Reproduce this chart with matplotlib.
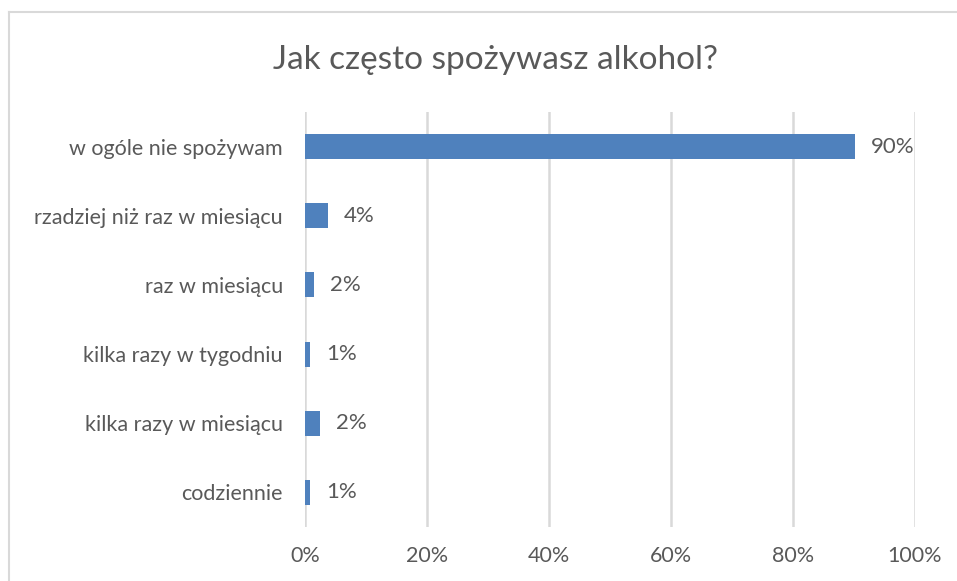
import matplotlib.pyplot as plt
from matplotlib.lines import Line2D

# Odpowiedzi i udziały w procentach
categories = ["w ogóle nie spożywam", "rzadziej niż raz w miesiącu", "raz w miesiącu",
              "kilka razy w tygodniu", "kilka razy w miesiącu", "codziennie"]
shares = [90.2, 3.8, 1.5, 0.8, 2.4, 0.8]
xticks = [0, 20, 40, 60, 80, 100]

text_color = "#595959"
grid_color = "#d9d9d9"
bar_color = "#4f81bd"
plt.rcParams["font.family"] = ["Lato", "DejaVu Sans"]

fig = plt.figure(figsize=(9.57, 5.81), dpi=100)
ax = fig.add_axes([305 / 957, 1 - 527 / 581, 610 / 957, 415 / 581])

pos = list(range(len(categories)))[::-1]
ax.barh(pos, shares, height=0.36, color=bar_color, zorder=3)
for p, v in zip(pos, shares):
    ax.annotate(f"{v:.0f}%", (v, p), xytext=(11.5, 0), textcoords="offset points",
                ha="left", va="center", fontsize=16, color=text_color)

ax.set_xlim(0, 100)
ax.set_ylim(-0.5, len(categories) - 0.5)
ax.set_xticks(xticks)
ax.set_xticklabels([f"{t}%" for t in xticks])
ax.set_yticks(pos)
ax.set_yticklabels(categories)
ax.tick_params(axis="both", length=0, labelsize=15.5, colors=text_color)
ax.tick_params(axis="y", pad=16)
ax.tick_params(axis="x", pad=14)
ax.grid(axis="x", color=grid_color, linewidth=1.8, zorder=0)
for s in ax.spines.values():
    s.set_visible(False)

fig.text(495 / 957, 1 - 60 / 581, "Jak często spożywasz alkohol?", ha="center", va="center",
         fontsize=24, color=text_color)

# ramka wykresu (prawa i dolna krawędź poza kadrem)
fig.add_artist(Line2D([9 / 957, 9 / 957], [0, 1 - 12 / 581], color=grid_color, linewidth=1.5))
fig.add_artist(Line2D([9 / 957, 1], [1 - 12 / 581, 1 - 12 / 581], color=grid_color, linewidth=1.5))

fig.savefig("out.png", dpi=100)
